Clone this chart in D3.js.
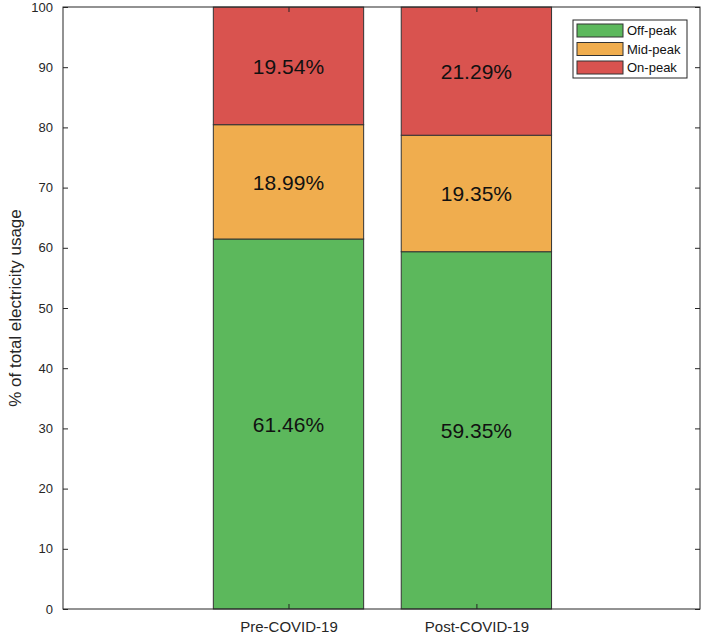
<!DOCTYPE html>
<html>
<head>
<meta charset="utf-8">
<script src="https://cdn.jsdelivr.net/npm/d3@7"></script>
<style>
body { margin: 0; background: #fff; }
text { font-family: Arial, "Liberation Sans", sans-serif; }
</style>
</head>
<body>
<script>
var periods = ["Pre-COVID-19", "Post-COVID-19"];
var seriesNames = ["Off-peak", "Mid-peak", "On-peak"];
var offPeak = [61.46, 59.35];
var midPeak = [18.99, 19.35];
var onPeak = [19.54, 21.29];
var yTicks = [0, 10, 20, 30, 40, 50, 60, 70, 80, 90, 100];
var colors = ["#5cb85c", "#f0ad4e", "#d9534f"];

var width = 705, height = 638;
var plotLeft = 63, plotRight = 700, plotTop = 7, plotBottom = 609;

var svg = d3.select("body").append("svg").attr("width", width).attr("height", height);

var x = d3.scaleLinear().domain([-0.2, 3.19]).range([plotLeft, plotRight]);
var y = d3.scaleLinear().domain([0, 100]).range([plotBottom, plotTop]);

var values = [offPeak, midPeak, onPeak];
var rows = periods.map(function(p, i) {
	var row = { period: p, pos: i + 1 };
	seriesNames.forEach(function(s, j) { row[s] = values[j][i]; });
	return row;
});
var stacked = d3.stack().keys(seriesNames)(rows);
var barW = x(0.8) - x(0);

// bars
stacked.forEach(function(layer, j) {
	svg.append("g").selectAll("rect").data(layer).enter().append("rect")
		.attr("x", function(d) { return x(d.data.pos) - barW / 2; })
		.attr("y", function(d) { return y(d[1]); })
		.attr("width", barW)
		.attr("height", function(d) { return y(d[0]) - y(d[1]); })
		.style("fill", colors[j])
		.style("stroke", "#333")
		.style("stroke-width", 1);

	svg.append("g").selectAll("text").data(layer).enter().append("text")
		.attr("x", function(d) { return x(d.data.pos); })
		.attr("y", function(d) { return y((d[0] + d[1]) / 2); })
		.attr("text-anchor", "middle")
		.attr("dy", "0.38em")
		.style("font-size", "21px")
		.style("fill", "#111")
		.text(function(d) { return (d[1] - d[0]).toFixed(2) + "%"; });
});

// axes
var axisColor = "#262626";
svg.append("g").attr("transform", "translate(" + plotLeft + ",0)")
	.call(d3.axisLeft(y).tickValues(yTicks).tickSizeInner(-5).tickSizeOuter(0).tickPadding(10))
	.call(function(g) {
		g.select(".domain").remove();
		g.selectAll("text").style("font-size", "13px").style("fill", axisColor);
		g.selectAll("line").style("stroke", axisColor);
	});
svg.append("g").attr("transform", "translate(" + plotRight + ",0)")
	.call(d3.axisRight(y).tickValues(yTicks).tickSizeInner(-5).tickSizeOuter(0).tickFormat(""))
	.call(function(g) {
		g.select(".domain").remove();
		g.selectAll("line").style("stroke", axisColor);
	});
svg.append("g").attr("transform", "translate(0," + plotBottom + ")")
	.call(d3.axisBottom(x).tickValues([1, 2]).tickFormat(function(d) { return periods[d - 1]; })
		.tickSizeInner(-5).tickSizeOuter(0).tickPadding(12))
	.call(function(g) {
		g.select(".domain").remove();
		g.selectAll("text").style("font-size", "15px").style("fill", axisColor);
		g.selectAll("line").style("stroke", axisColor);
	});
svg.append("g").attr("transform", "translate(0," + plotTop + ")")
	.call(d3.axisTop(x).tickValues([1, 2]).tickSizeInner(-5).tickSizeOuter(0).tickFormat(""))
	.call(function(g) {
		g.select(".domain").remove();
		g.selectAll("line").style("stroke", axisColor);
	});

svg.append("rect").attr("x", plotLeft).attr("y", plotTop)
	.attr("width", plotRight - plotLeft).attr("height", plotBottom - plotTop)
	.style("fill", "none").style("stroke", axisColor).style("stroke-width", 1);

svg.append("text")
	.attr("transform", "translate(21," + (plotTop + plotBottom) / 2 + ") rotate(-90)")
	.attr("text-anchor", "middle")
	.style("font-size", "17px")
	.style("fill", axisColor)
	.text("% of total electricity usage");

// legend
var legend = svg.append("g").attr("transform", "translate(573,20)");
legend.append("rect").attr("width", 114).attr("height", 58)
	.style("fill", "#fff").style("stroke", axisColor);
seriesNames.forEach(function(s, j) {
	legend.append("rect").attr("x", 4).attr("y", 4 + j * 18.5).attr("width", 46).attr("height", 13)
		.style("fill", colors[j]).style("stroke", "#333");
	legend.append("text").attr("x", 54).attr("y", 10.5 + j * 18.5).attr("dy", "0.35em")
		.style("font-size", "13px").style("fill", "#111").text(s);
});
</script>
</body>
</html>
